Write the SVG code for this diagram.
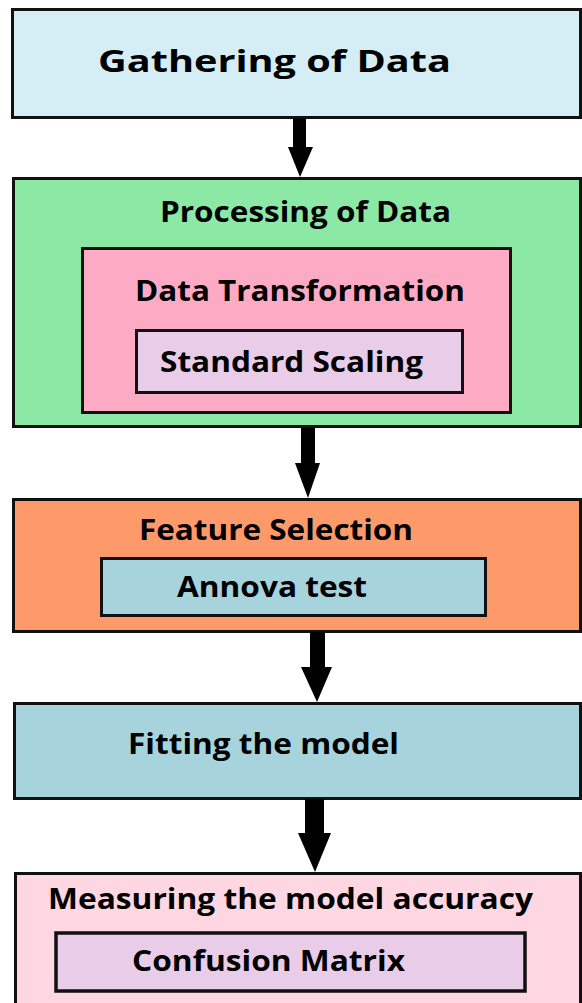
<svg xmlns="http://www.w3.org/2000/svg" width="582" height="1003" viewBox="0 0 582 1003">
<style>
.box{stroke:#111;stroke-width:3}
.inner{stroke:#111;stroke-width:3.5}
.t{font-family:"Open Sans","Liberation Sans",sans-serif;font-weight:bold;fill:#000}
.arrow{fill:#000}
</style>
<rect width="582" height="1003" fill="#fff"/>
<g id="gathering">
<rect class="box" x="12.5" y="9.5" width="568" height="108" fill="#d5eef5"/>
<text class="t" x="98" y="72" font-size="31" textLength="353" lengthAdjust="spacingAndGlyphs">Gathering of Data</text>
</g>
<g id="processing">
<rect class="box" x="13.5" y="178.5" width="567" height="248" fill="#8be8a5"/>
<text class="t" x="160" y="222" font-size="28" textLength="291" lengthAdjust="spacingAndGlyphs">Processing of Data</text>
</g>
<g id="transformation">
<rect class="box" x="82.5" y="248.5" width="428" height="164" fill="#fdaac4"/>
<text class="t" x="135" y="301" font-size="28" textLength="330" lengthAdjust="spacingAndGlyphs">Data Transformation</text>
</g>
<g id="scaling">
<rect class="box" x="136.5" y="330.5" width="326" height="62" fill="#e8cce8"/>
<text class="t" x="160" y="372" font-size="28" textLength="263" lengthAdjust="spacingAndGlyphs">Standard Scaling</text>
</g>
<g id="feature">
<rect class="box" x="13.5" y="499.5" width="567" height="132" fill="#fe9a6a"/>
<text class="t" x="139" y="540" font-size="28" textLength="274" lengthAdjust="spacingAndGlyphs">Feature Selection</text>
</g>
<g id="annova">
<rect class="box" x="101.5" y="558.5" width="384" height="57" fill="#a7d3dc"/>
<text class="t" x="177" y="597" font-size="28" textLength="190" lengthAdjust="spacingAndGlyphs">Annova test</text>
</g>
<g id="fitting">
<rect class="box" x="14.5" y="703.5" width="566" height="95" fill="#a7d3dc"/>
<text class="t" x="128" y="754" font-size="28" textLength="271" lengthAdjust="spacingAndGlyphs">Fitting the model</text>
</g>
<g id="measuring">
<rect class="box" x="15.5" y="873.5" width="565" height="132" fill="#ffd7e3"/>
<text class="t" x="48" y="909" font-size="28" textLength="485" lengthAdjust="spacingAndGlyphs">Measuring the model accuracy</text>
</g>
<g id="confusion">
<rect class="inner" x="56" y="933" width="469" height="58" fill="#e8cce8" stroke-width="4"/>
<text class="t" x="132" y="971" font-size="28" textLength="273" lengthAdjust="spacingAndGlyphs">Confusion Matrix</text>
</g>
<g id="connectors">
<polygon class="arrow" points="293,119 306,119 306,147 313,147 300,177 288,147 293,147"/>
<polygon class="arrow" points="301,428 315,428 315,463 320,463 308,498 295,463 301,463"/>
<polygon class="arrow" points="310,632 325,632 325,667 332,667 317,702 301,667 310,667"/>
<polygon class="arrow" points="305,799 324,799 324,833 331,833 315,872 298,833 305,833"/>
</g>
</svg>
